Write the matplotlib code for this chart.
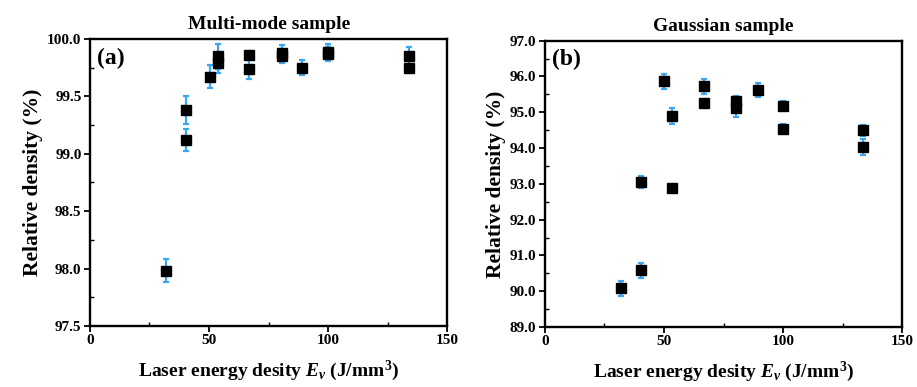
import matplotlib.pyplot as plt
from matplotlib.ticker import MultipleLocator, FormatStrFormatter

plt.rcParams["font.family"] = ["Liberation Serif", "DejaVu Serif"]
plt.rcParams["font.weight"] = "bold"
plt.rcParams["mathtext.fontset"] = "custom"
plt.rcParams["mathtext.it"] = "Liberation Serif:italic:bold"
plt.rcParams["mathtext.rm"] = "Liberation Serif:bold"

# (a) multi-mode sample
multi_ev = [32.0, 40.3, 40.3, 50.4, 53.7, 53.7, 66.9, 66.9, 80.4, 80.4, 89.1, 99.9, 99.9, 133.9, 133.9]
multi_rd = [97.98, 99.38, 99.12, 99.67, 99.85, 99.79, 99.86, 99.74, 99.88, 99.85, 99.75, 99.89, 99.87, 99.85, 99.75]
multi_err = [0.10, 0.12, 0.10, 0.10, 0.11, 0.09, 0.04, 0.085, 0.07, 0.06, 0.065, 0.07, 0.06, 0.08, 0.03]

# (b) Gaussian sample
gauss_ev = [32.2, 40.3, 40.3, 50.1, 53.4, 53.4, 66.7, 66.7, 80.2, 80.2, 89.3, 100.0, 100.0, 133.3, 133.3]
gauss_rd = [90.08, 90.58, 93.05, 95.87, 94.89, 92.88, 95.73, 95.25, 95.11, 95.30, 95.62, 95.18, 94.54, 94.49, 94.03]
gauss_err = [0.20, 0.20, 0.16, 0.21, 0.23, 0.10, 0.21, 0.12, 0.25, 0.14, 0.20, 0.12, 0.12, 0.16, 0.22]

err_color = "#3aa8f0"

fig = plt.figure(figsize=(9.17, 3.87), dpi=100)
ax_a = fig.add_axes([0.098, 0.158, 0.390, 0.741])
ax_b = fig.add_axes([0.594, 0.155, 0.390, 0.740])

panels = [
    (ax_a, multi_ev, multi_rd, multi_err, "Multi-mode sample", "(a)", (97.5, 100.0), 0.5),
    (ax_b, gauss_ev, gauss_rd, gauss_err, "Gaussian sample", "(b)", (89.0, 97.0), 1.0),
]

for ax, x, y, err, title, tag, ylim, ystep in panels:
    ax.errorbar(x, y, yerr=err, fmt="s", color="black", markersize=7,
                ecolor=err_color, elinewidth=1.6, capsize=2.5, capthick=1.6, zorder=3)
    ax.set_xlim(0, 150)
    ax.set_ylim(*ylim)
    ax.xaxis.set_major_locator(MultipleLocator(50))
    ax.xaxis.set_minor_locator(MultipleLocator(25))
    ax.yaxis.set_major_locator(MultipleLocator(ystep))
    ax.yaxis.set_minor_locator(MultipleLocator(ystep / 2))
    ax.yaxis.set_major_formatter(FormatStrFormatter("%.1f"))
    ax.tick_params(which="major", direction="out", length=4, width=1.3, labelsize=11, pad=2)
    ax.tick_params(which="minor", direction="in", length=3, width=1.0)
    for side in ax.spines.values():
        side.set_linewidth(1.7)
    ax.set_title(title, fontsize=14, fontweight="bold", pad=7)
    ax.text(0.02, 0.97, tag, transform=ax.transAxes, fontsize=17,
            fontweight="bold", va="top", ha="left")
    ax.set_ylabel("Relative density (%)", fontsize=15.5, fontweight="bold", labelpad=3)
    ax.set_xlabel(r"Laser energy desity $E_v$ (J/mm$^3$)", fontsize=14,
                  fontweight="bold", labelpad=8)

fig.savefig("out.png", dpi=100)
